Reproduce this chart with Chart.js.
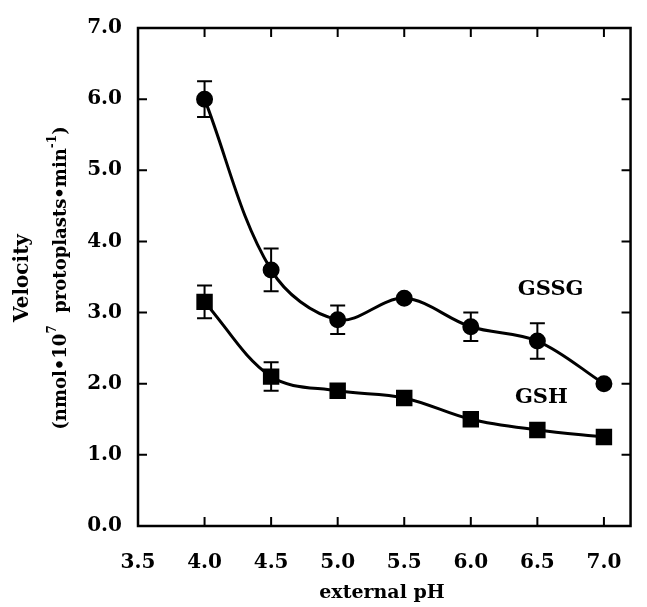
<!DOCTYPE html>
<html>
<head>
<meta charset="utf-8">
<script src="https://cdn.jsdelivr.net/npm/chart.js@4.4.1/dist/chart.umd.min.js"></script>
<style>
  html, body { margin: 0; padding: 0; background: #fff; }
  canvas { display: block; }
</style>
</head>
<body>
<canvas id="velocityChart" width="647" height="607"></canvas>
<script>
// data
const phValues = [4.0, 4.5, 5.0, 5.5, 6.0, 6.5, 7.0];
const gssgVelocity = [6.0, 3.6, 2.9, 3.2, 2.8, 2.6, 2.0];
const gssgError = [0.25, 0.3, 0.2, 0, 0.2, 0.25, 0];
const gshVelocity = [3.15, 2.1, 1.9, 1.8, 1.5, 1.35, 1.25];
const gshError = [0.23, 0.2, 0, 0, 0, 0, 0];
const xTicks = [3.5, 4.0, 4.5, 5.0, 5.5, 6.0, 6.5, 7.0];
const yTicks = [0, 1, 2, 3, 4, 5, 6, 7];
const seriesNames = ['GSSG', 'GSH'];

const serif = "'DejaVu Serif', 'Liberation Serif', serif";

function boldText(ctx, text, x, y, size, align) {
    ctx.font = 'bold ' + size + 'px ' + serif;
    ctx.textAlign = align || 'center';
    ctx.fillText(text, x, y);
}

const paperPlugin = {
    id: 'paperPlugin',
    beforeDatasetsDraw(chart) {
        const ctx = chart.ctx, xs = chart.scales.x, ys = chart.scales.y;
        const cap = 7.5;
        ctx.save();
        ctx.strokeStyle = '#000';
        ctx.lineWidth = 2;
        [[gssgVelocity, gssgError], [gshVelocity, gshError]].forEach(([vals, errs]) => {
            phValues.forEach((ph, i) => {
                if (!errs[i]) return;
                const px = xs.getPixelForValue(ph);
                const top = ys.getPixelForValue(vals[i] + errs[i]);
                const bot = ys.getPixelForValue(vals[i] - errs[i]);
                ctx.beginPath();
                ctx.moveTo(px, top); ctx.lineTo(px, bot);
                ctx.moveTo(px - cap, top); ctx.lineTo(px + cap, top);
                ctx.moveTo(px - cap, bot); ctx.lineTo(px + cap, bot);
                ctx.stroke();
            });
        });
        ctx.restore();
    },
    afterDraw(chart) {
        const ctx = chart.ctx, xs = chart.scales.x, ys = chart.scales.y;
        const a = chart.chartArea;
        ctx.save();

        // box with inward ticks on every side
        ctx.strokeStyle = '#000';
        ctx.lineWidth = 2.5;
        ctx.strokeRect(a.left, a.top, a.right - a.left, a.bottom - a.top);
        ctx.lineWidth = 2;
        ctx.beginPath();
        xTicks.forEach(v => {
            const px = xs.getPixelForValue(v);
            ctx.moveTo(px, a.bottom); ctx.lineTo(px, a.bottom - 9);
            ctx.moveTo(px, a.top); ctx.lineTo(px, a.top + 9);
        });
        yTicks.forEach(v => {
            const py = ys.getPixelForValue(v);
            ctx.moveTo(a.left, py); ctx.lineTo(a.left + 9, py);
            ctx.moveTo(a.right, py); ctx.lineTo(a.right - 9, py);
        });
        ctx.stroke();

        ctx.fillStyle = '#000';
        ctx.textBaseline = 'middle';

        // series names next to the curves
        boldText(ctx, seriesNames[0], xs.getPixelForValue(6.6), ys.getPixelForValue(3.32), 21);
        boldText(ctx, seriesNames[1], xs.getPixelForValue(6.53), ys.getPixelForValue(1.8), 21);

        // x title
        ctx.textBaseline = 'alphabetic';
        boldText(ctx, 'external pH', 382, 598, 19);

        // y title, two rotated lines with superscripts
        ctx.translate(0, 278);
        ctx.rotate(-Math.PI / 2);
        ctx.textBaseline = 'middle';
        boldText(ctx, 'Velocity', 0, 23, 20);

        const parts = [
            { t: '(nmol\u202210', sup: false },
            { t: '7', sup: true },
            { t: '  protoplasts\u2022min', sup: false },
            { t: '-1', sup: true },
            { t: ')', sup: false }
        ];
        const setFont = p => { ctx.font = 'bold ' + (p.sup ? 12 : 18) + 'px ' + serif; };
        let total = 0;
        parts.forEach(p => { setFont(p); total += ctx.measureText(p.t).width; });
        let cx = -total / 2;
        ctx.textAlign = 'left';
        parts.forEach(p => {
            setFont(p);
            ctx.fillText(p.t, cx, p.sup ? 61 - 8 : 61);
            cx += ctx.measureText(p.t).width;
        });

        ctx.restore();
    }
};

const tickFont = { family: serif, size: 20, weight: 'bold' };

new Chart(document.getElementById('velocityChart'), {
    type: 'line',
    data: {
        datasets: [
            {
                label: seriesNames[0],
                data: phValues.map((ph, i) => ({ x: ph, y: gssgVelocity[i] })),
                borderColor: '#000',
                borderWidth: 3,
                backgroundColor: '#000',
                pointStyle: 'circle',
                pointRadius: 7,
                tension: 0.35,
                fill: false
            },
            {
                label: seriesNames[1],
                data: phValues.map((ph, i) => ({ x: ph, y: gshVelocity[i] })),
                borderColor: '#000',
                borderWidth: 3,
                backgroundColor: '#000',
                pointStyle: 'rect',
                pointRadius: 9.5,
                tension: 0.35,
                fill: false
            }
        ]
    },
    options: {
        responsive: false,
        animation: false,
        devicePixelRatio: 1,
        layout: { padding: { top: 24, right: 3, left: 0, bottom: 0 } },
        plugins: {
            legend: { display: false },
            tooltip: { enabled: false }
        },
        scales: {
            x: {
                type: 'linear',
                min: 3.5,
                max: 7.2,
                afterBuildTicks: s => { s.ticks = xTicks.map(v => ({ value: v })); },
                afterFit: s => { s.height = 81; },
                ticks: {
                    callback: v => v.toFixed(1),
                    font: tickFont,
                    color: '#000',
                    padding: 25,
                    maxRotation: 0,
                    autoSkip: false
                },
                grid: { display: false, drawTicks: false },
                border: { display: false }
            },
            y: {
                type: 'linear',
                min: 0,
                max: 7,
                afterBuildTicks: s => { s.ticks = yTicks.map(v => ({ value: v })); },
                afterFit: s => { s.width = 138; },
                ticks: {
                    callback: v => v.toFixed(1),
                    font: tickFont,
                    color: '#000',
                    padding: 16,
                    autoSkip: false
                },
                grid: { display: false, drawTicks: false },
                border: { display: false }
            }
        }
    },
    plugins: [paperPlugin]
});
</script>
</body>
</html>
